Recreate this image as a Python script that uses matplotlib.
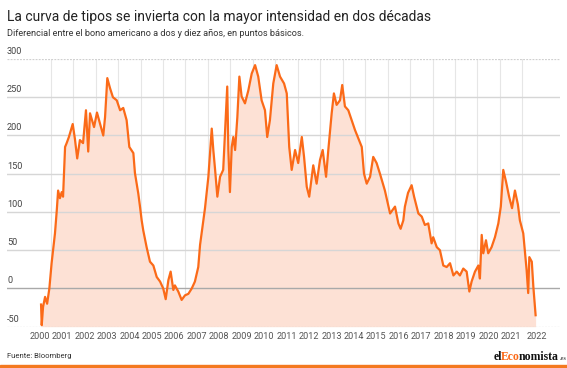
import matplotlib.pyplot as plt
import matplotlib.transforms as mtransforms
from matplotlib.font_manager import FontProperties

# fecha (año decimal) y diferencial 10 años - 2 años, en puntos básicos
fechas = [2000.57, 2000.60, 2000.66, 2000.75, 2000.84, 2000.94, 2001.04, 2001.12, 2001.19, 2001.27,
          2001.33, 2001.41, 2001.49, 2001.55, 2001.64, 2001.71, 2001.81, 2001.98, 2002.08, 2002.18,
          2002.30, 2002.44, 2002.57, 2002.67, 2002.75, 2002.93, 2003.06, 2003.20, 2003.34, 2003.42,
          2003.52, 2003.64, 2003.77, 2003.94, 2004.09, 2004.23, 2004.38, 2004.50, 2004.68, 2004.75,
          2004.90, 2004.98, 2005.05, 2005.12, 2005.27, 2005.42, 2005.57, 2005.72, 2005.87, 2006.01,
          2006.12, 2006.24, 2006.34, 2006.46, 2006.53, 2006.68, 2006.83, 2006.98, 2007.13, 2007.28,
          2007.42, 2007.57, 2007.65, 2007.87, 2008.02, 2008.17, 2008.24, 2008.32, 2008.42, 2008.54,
          2008.68, 2008.81, 2008.86, 2008.91, 2008.98, 2009.06, 2009.13, 2009.21, 2009.31, 2009.40,
          2009.50, 2009.65, 2009.80, 2009.95, 2010.10, 2010.24, 2010.39, 2010.54, 2010.64, 2010.76,
          2010.91, 2011.06, 2011.21, 2011.39, 2011.51, 2011.62, 2011.73, 2011.88, 2012.02, 2012.18,
          2012.28, 2012.40, 2012.51, 2012.69, 2012.84, 2012.99, 2013.11, 2013.26, 2013.36, 2013.51,
          2013.61, 2013.73, 2013.88, 2013.98, 2014.10, 2014.25, 2014.40, 2014.55, 2014.70, 2014.85,
          2014.95, 2015.07, 2015.22, 2015.36, 2015.51, 2015.66, 2015.88, 2016.11, 2016.33, 2016.48,
          2016.58, 2016.70, 2016.77, 2016.91, 2017.07, 2017.18, 2017.37, 2017.52, 2017.66, 2017.81,
          2017.96, 2018.03, 2018.19, 2018.33, 2018.48, 2018.63, 2018.78, 2018.93, 2019.08, 2019.22,
          2019.37, 2019.52, 2019.64, 2019.74, 2019.89, 2020.04, 2020.11, 2020.19, 2020.26, 2020.38,
          2020.48, 2020.63, 2020.78, 2020.93, 2021.04, 2021.15, 2021.27, 2021.41, 2021.54, 2021.67,
          2021.80, 2021.89, 2022.04, 2022.19, 2022.26, 2022.31, 2022.42, 2022.49, 2022.59]
diferencial = [-21, -48, -24, -11, -20, 0, 33, 54, 72, 102,
               128, 118, 126, 120, 185, 190, 198, 215, 195, 170,
               194, 190, 233, 179, 229, 211, 230, 215, 200, 224,
               275, 262, 250, 246, 233, 236, 220, 185, 177, 151,
               124, 106, 89, 76, 54, 35, 30, 15, 9, 0,
               -14, 11, 22, -2, 4, -4, -15, -9, -7, 0,
               9, 28, 57, 105, 146, 209, 181, 155, 120, 146,
               155, 233, 264, 181, 126, 185, 198, 181, 224, 277,
               251, 242, 259, 281, 292, 277, 246, 233, 198, 220,
               268, 292, 277, 268, 255, 185, 155, 181, 164, 198,
               172, 133, 120, 161, 137, 168, 181, 146, 181, 229,
               255, 240, 246, 266, 238, 233, 220, 207, 196, 185,
               150, 137, 146, 172, 164, 150, 128, 98, 107, 85,
               78, 89, 107, 125, 135, 120, 98, 94, 83, 85,
               59, 67, 54, 50, 30, 28, 33, 17, 22, 17,
               26, 22, -4, 9, 22, 30, 13, 70, 46, 63,
               46, 54, 67, 85, 107, 155, 140, 120, 105, 128,
               110, 89, 72, 24, -6, 41, 35, 2, -35]

anios = list(range(2000, 2023))
marcas_y = [-50, 0, 50, 100, 150, 200, 250, 300]

naranja = '#fb6a18'
relleno = '#fde1d5'

plt.rcParams['font.family'] = ['Roboto', 'DejaVu Sans']

fig = plt.figure(figsize=(5.67, 3.68), dpi=100)
ax = fig.add_axes([7 / 567, 1 - 326.7 / 368, 553 / 567, (326.7 - 59) / 368])
ax.set_xlim(1999.054, 2023.676)
ax.set_ylim(-50, 300)
ax.axis('off')

# rejilla vertical (inicio de cada año)
for a in anios[1:]:
    ax.axvline(a, color='#e6e6e6', lw=0.8, zorder=0)

ax.fill_between(fechas, diferencial, -50, color=relleno, lw=0, zorder=1)

# rejilla horizontal
for v in marcas_y:
    if v == 0:
        ax.axhline(v, color='#a9a9a9', lw=1.0, zorder=2)
    elif v in (-50, 300):
        ax.axhline(v, color='#d0d0d0', lw=0.9, ls=(0, (1.5, 1)), zorder=2)
    else:
        ax.axhline(v, color='#d6d6d6', lw=1.0, zorder=2)

ax.plot(fechas, diferencial, color=naranja, lw=1.6, zorder=3, solid_joinstyle='round')

trans = mtransforms.blended_transform_factory(ax.transAxes, ax.transData)
for v in marcas_y:
    ax.text(0, v + 4, str(v), transform=trans, fontsize=6.6, color='#444444',
            ha='left', va='bottom', zorder=4)

# etiquetas de años, centradas en cada año
for a in anios:
    pos = a + 0.5 if a < 2022 else 2022.64
    ax.text(pos, -57, str(a), fontsize=6.6, color='#555555', ha='center', va='top')

fig.text(7 / 567, 1 - 21 / 368, 'La curva de tipos se invierta con la mayor intensidad en dos décadas',
         fontsize=10.0, color='#222222', ha='left', va='baseline')
fig.text(7 / 567, 1 - 36 / 368, 'Diferencial entre el bono americano a dos y diez años, en puntos básicos.',
         fontsize=6.6, color='#333333', ha='left', va='baseline')
fig.text(7 / 567, 1 - 358 / 368, 'Fuente: Bloomberg', fontsize=5.5, color='#333333',
         ha='left', va='baseline')

# logo: piezas seguidas, con un pequeño ajuste en cada unión
fp = FontProperties(family='Liberation Serif', weight='bold', size=8.5)
render = fig.canvas.get_renderer()


def ancho(s):
    return render.get_text_width_height_descent(s, fp, ismath=False)[0]


logo = 'elEconomista'
piezas = [(0, 2, '#111111'), (2, 5, naranja), (5, 12, '#111111')]
x0 = 494.0
for n, (i, j, c) in enumerate(piezas):
    x = x0 + ancho(logo[:i]) - 1.2 * n
    fig.text(x / 567, 1 - 360 / 368, logo[i:j], color=c, fontproperties=fp,
             ha='left', va='baseline')
fig.text((x0 + ancho(logo) - 1.4) / 567, 1 - 360 / 368, '.es', color='#555555', fontsize=4.5,
         fontweight='bold', family='Liberation Serif', ha='left', va='baseline')

# barra inferior
fig.patches.append(plt.Rectangle((0, 0), 1, 3 / 368, transform=fig.transFigure,
                                 color='#f47920', zorder=5))

fig.savefig('out.png', dpi=100)
